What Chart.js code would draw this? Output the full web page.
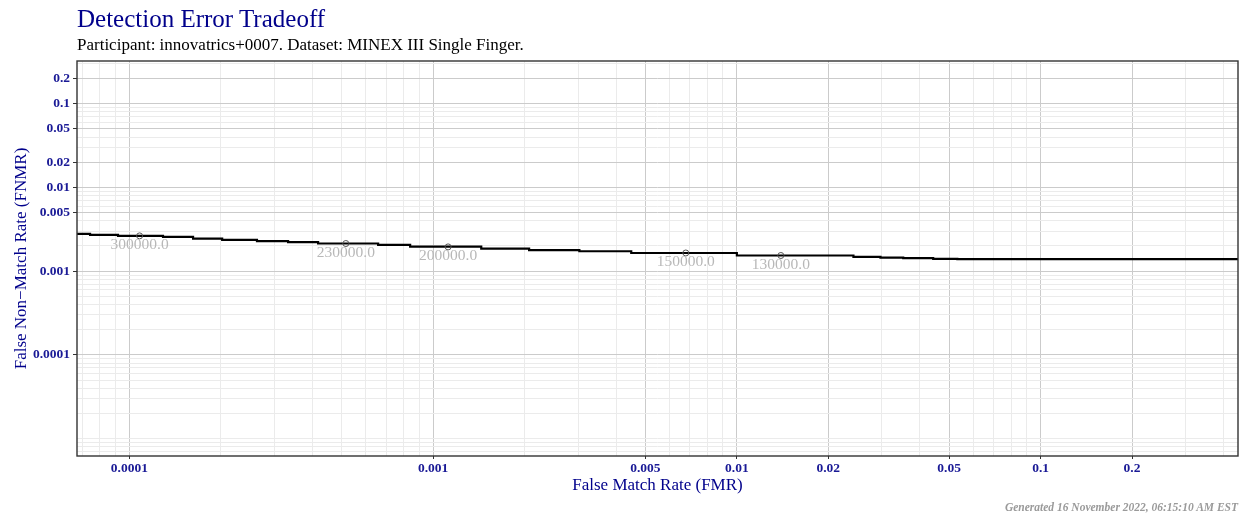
<!DOCTYPE html>
<html><head><meta charset="utf-8">
<script src="https://cdn.jsdelivr.net/npm/chart.js@4/dist/chart.umd.min.js"></script>
<style>
html,body{margin:0;padding:0;background:#fff;}
#wrap{position:relative;width:1248px;height:516px;overflow:hidden;background:#fff;}
#c{position:absolute;left:0;top:0;}
.t{position:absolute;white-space:nowrap;font-family:"Liberation Serif","DejaVu Serif",serif;line-height:1;}
#title{left:77px;top:6px;font-size:25px;color:#00008b;}
#sub{left:77px;top:36px;font-size:17px;color:#000;}
#foot{right:10px;top:502px;font-size:11.5px;font-weight:bold;font-style:italic;color:#9a9a9a;}
</style></head>
<body>
<div id="wrap">
<canvas id="c" width="1248" height="516"></canvas>
<div class="t" id="title">Detection Error Tradeoff</div>
<div class="t" id="sub">Participant: innovatrics+0007. Dataset: MINEX III Single Finger.</div>
<div class="t" id="foot">Generated 16 November 2022, 06:15:10 AM EST</div>
</div>
<script>
// DET step curve (FMR, FNMR)
const detFmr = [6.72e-5, 7.42e-5, 9.17e-5, 1.29e-4, 1.62e-4, 2.02e-4, 2.63e-4, 3.33e-4, 4.18e-4, 6.59e-4, 8.40e-4, 1.44e-3, 2.07e-3, 3.03e-3, 4.49e-3, 1.0e-2, 1.88e-2, 2.42e-2, 2.97e-2, 3.53e-2, 4.43e-2, 5.32e-2, 0.4467];
const detFnmr = [0.00279, 0.002715, 0.00264, 0.00257, 0.00245, 0.00237, 0.00228, 0.00222, 0.00214, 0.00206, 0.00197, 0.00186, 0.00178, 0.00173, 0.00165, 0.00154, 0.00154, 0.00148, 0.00145, 0.00143, 0.00140, 0.00139, 0.00139];
// labelled threshold points
const ptFmr = [1.08e-4, 5.16e-4, 1.12e-3, 6.79e-3, 1.396e-2];
const ptFnmr = [0.00264, 0.00214, 0.00195, 0.00165, 0.00154];
const ptLabels = ['300000.0', '230000.0', '200000.0', '150000.0', '130000.0'];
// axis ticks
const xTickValues = [0.0001, 0.001, 0.005, 0.01, 0.02, 0.05, 0.1, 0.2];
const xTickLabels = ['0.0001', '0.001', '0.005', '0.01', '0.02', '0.05', '0.1', '0.2'];
const yTickValues = [0.0001, 0.001, 0.005, 0.01, 0.02, 0.05, 0.1, 0.2];
const yTickLabels = ['0.0001', '0.001', '0.005', '0.01', '0.02', '0.05', '0.1', '0.2'];
const xRange = [6.72e-5, 0.4467];
const yRange = [6.21e-6, 0.3236];

const BLUE = '#00008b';
const TICKBLUE = '#1a1a96';
const FONT = '"Liberation Serif", "DejaVu Serif", serif';

function findIdx(list, v) { return list.findIndex(t => Math.abs(v / t - 1) < 1e-6); }
function gridValues(list, lo, hi) {
  const out = [];
  for (let e = -7; e <= 1; e++) for (let m = 1; m <= 9; m++) {
    const v = Number((m * Math.pow(10, e)).toPrecision(6));
    if (v >= lo && v <= hi) out.push(v);
  }
  list.forEach(t => { if (findIdx(out, t) < 0 && t >= lo && t <= hi) out.push(t); });
  return out.sort((a, b) => a - b);
}

function makeAxis(vals, labels, range, title, isX) {
  return {
    type: 'logarithmic',
    min: range[0], max: range[1],
    afterBuildTicks: s => { s.ticks = gridValues(vals, range[0], range[1]).map(v => ({ value: v })); },
    afterFit: s => { if (isX) s.height = 60; else s.width = 77; },
    ticks: {
      autoSkip: false, maxRotation: 0, minRotation: 0,
      padding: isX ? 1 : 3,
      color: TICKBLUE,
      font: { family: FONT, size: 13.5, weight: 'bold', lineHeight: 1.2 },
      callback: v => { const i = findIdx(vals, v); return i >= 0 ? labels[i] : ''; }
    },
    grid: {
      drawOnChartArea: true, drawTicks: true,
      tickLength: isX ? 3 : 4,
      color: c => (c.tick && findIdx(vals, c.tick.value) >= 0) ? '#cbcbcb' : '#ebebeb',
      tickColor: c => (c.tick && findIdx(vals, c.tick.value) >= 0) ? '#333333' : 'rgba(0,0,0,0)',
      lineWidth: 1, tickWidth: 1
    },
    border: { display: false },
    title: {
      display: true, text: title, color: BLUE,
      font: { family: FONT, size: 17, lineHeight: 1.2 },
      padding: isX ? { top: 0, bottom: 20 } : { top: 11, bottom: 0 }
    }
  };
}

const panelBorder = {
  id: 'panelBorder',
  afterDatasetsDraw(chart) {
    const { ctx, chartArea: a } = chart;
    ctx.save();
    ctx.strokeStyle = '#333';
    ctx.lineWidth = 1.4;
    ctx.strokeRect(a.left, a.top, a.right - a.left, a.bottom - a.top);
    ctx.restore();
  }
};
const pointLabels = {
  id: 'pointLabels',
  afterDatasetsDraw(chart) {
    const meta = chart.getDatasetMeta(1);
    const ctx = chart.ctx;
    ctx.save();
    ctx.font = '15.5px ' + FONT;
    ctx.fillStyle = '#b8b8b8';
    ctx.textAlign = 'center';
    ctx.textBaseline = 'middle';
    meta.data.forEach((el, i) => ctx.fillText(ptLabels[i], el.x, el.y + 9));
    ctx.restore();
  }
};

new Chart(document.getElementById('c'), {
  type: 'line',
  data: {
    datasets: [
      {
        label: 'DET',
        data: detFmr.map((x, i) => ({ x, y: detFnmr[i] })),
        borderColor: '#000', borderWidth: 2.2, stepped: 'before',
        pointRadius: 0, fill: false, order: 2
      },
      {
        label: 'thresholds',
        data: ptFmr.map((x, i) => ({ x, y: ptFnmr[i] })),
        showLine: false, pointRadius: 3, pointBorderWidth: 1,
        pointBorderColor: '#555', pointBackgroundColor: 'rgba(0,0,0,0)', order: 1
      }
    ]
  },
  options: {
    responsive: false, animation: false, devicePixelRatio: 1,
    layout: { padding: { left: 0, right: 10, top: 61, bottom: 0 } },
    plugins: { legend: { display: false }, tooltip: { enabled: false }, title: { display: false } },
    scales: {
      x: makeAxis(xTickValues, xTickLabels, xRange, 'False Match Rate (FMR)', true),
      y: makeAxis(yTickValues, yTickLabels, yRange, 'False Non\u2212Match Rate (FNMR)', false)
    }
  },
  plugins: [panelBorder, pointLabels]
});
</script>
</body></html>
